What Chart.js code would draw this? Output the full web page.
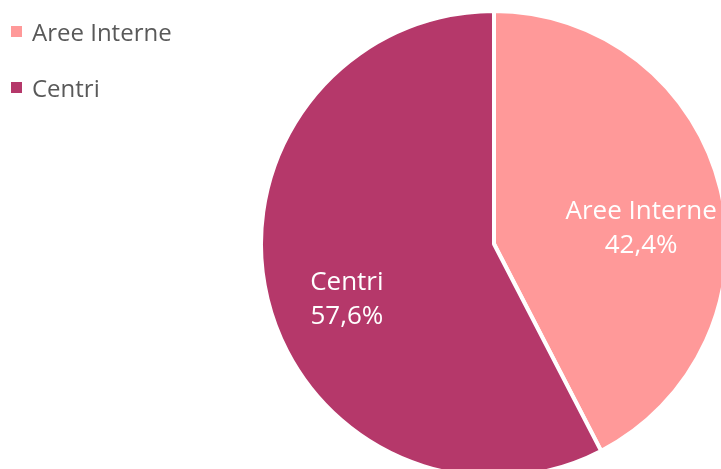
<!DOCTYPE html>
<html>
<head>
<meta charset="utf-8">
<script src="https://cdn.jsdelivr.net/npm/chart.js@4"></script>
<style>
  html, body { margin: 0; padding: 0; background: #fff; }
  #wrap { position: relative; width: 721px; height: 469px; overflow: hidden; }
  #legend { position: absolute; left: 11px; top: 3px; font-family: "Open Sans", sans-serif; font-size: 24px; color: #595959; }
  .item { height: 56px; display: flex; align-items: center; }
  .box { width: 11px; height: 11px; margin-right: 10px; }
</style>
</head>
<body>
<div id="wrap">
  <canvas id="pie" width="721" height="469"></canvas>
  <div id="legend"></div>
</div>
<script>
const labels = ['Aree Interne', 'Centri'];
const values = [42.4, 57.6];
const colors = ['#FF9999', '#B5386A'];

// legend built from the same arrays
const legendEl = document.getElementById('legend');
labels.forEach(function (name, i) {
  const row = document.createElement('div');
  row.className = 'item';
  row.innerHTML = '<span class="box" style="background:' + colors[i] + '"></span>' + name;
  legendEl.appendChild(row);
});

// white labels inside each slice
const sliceLabels = {
  id: 'sliceLabels',
  afterDatasetsDraw(chart) {
    const ctx = chart.ctx;
    const meta = chart.getDatasetMeta(0);
    ctx.save();
    ctx.fillStyle = '#ffffff';
    ctx.font = '26px "Open Sans", sans-serif';
    ctx.textAlign = 'center';
    ctx.textBaseline = 'middle';
    meta.data.forEach(function (arc, i) {
      const p = arc.getProps(['x', 'y', 'startAngle', 'endAngle', 'outerRadius']);
      const mid = (p.startAngle + p.endAngle) / 2;
      const r = p.outerRadius * 0.65;
      const x = p.x + Math.cos(mid) * r;
      const y = p.y + Math.sin(mid) * r + 20;
      ctx.fillText(labels[i], x, y - 17);
      ctx.fillText(values[i].toFixed(1).replace('.', ',') + '%', x, y + 17);
    });
    ctx.restore();
  }
};

new Chart(document.getElementById('pie'), {
  type: 'pie',
  data: {
    labels: labels,
    datasets: [{
      data: values,
      backgroundColor: colors,
      borderColor: '#ffffff',
      borderWidth: 4,
      radius: 233
    }]
  },
  options: {
    responsive: false,
    animation: false,
    layout: { padding: { left: 267, top: 19, right: 0, bottom: 0 } },
    plugins: {
      legend: { display: false },
      tooltip: { enabled: false }
    }
  },
  plugins: [sliceLabels]
});
</script>
</body>
</html>
